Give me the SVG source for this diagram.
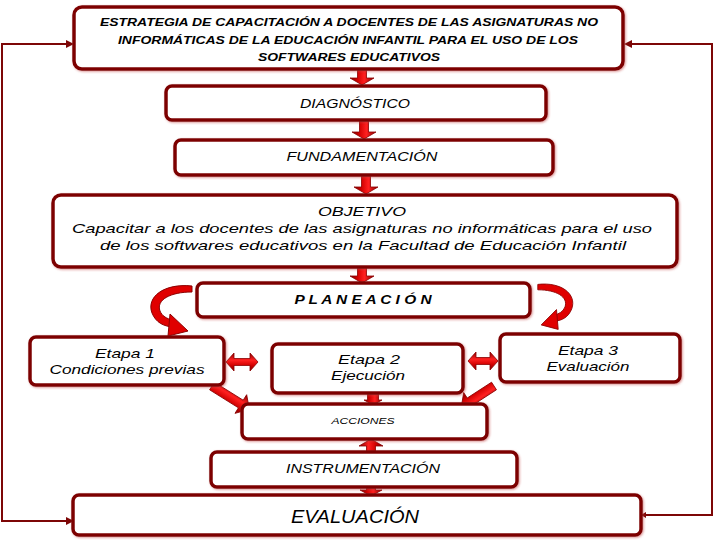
<svg xmlns="http://www.w3.org/2000/svg" width="720" height="540" viewBox="0 0 720 540">
<defs>
<linearGradient id="g" x1="0" y1="0" x2="0" y2="1">
<stop offset="0" stop-color="#8a0000"/>
<stop offset="0.4" stop-color="#ff2020"/>
<stop offset="0.7" stop-color="#d00000"/>
<stop offset="1" stop-color="#7a0000"/>
</linearGradient>
<filter id="sh" x="-5%" y="-20%" width="110%" height="140%">
<feDropShadow dx="1" dy="1" stdDeviation="1.3" flood-color="#c04040" flood-opacity="0.55"/>
</filter>
</defs>
<style>
.box{fill:#fff;stroke:#7d0606;stroke-width:3.5;filter:url(#sh)}
.t{font-family:"Liberation Sans",Arial,sans-serif;font-style:italic;fill:#000;text-anchor:middle}
.b{font-weight:bold}
.ln{fill:none;stroke:#7d0606;stroke-width:2}
.ah{fill:#7d0606}
.arr{fill:url(#g);stroke:#8b0000;stroke-width:0.8}
.cv{fill:#e00000;stroke:#8b0000;stroke-width:1}
</style>
<rect width="720" height="540" fill="#fff"/>

<g id="connectors">
<polyline class="ln" points="70,44 2,44 2,521 70,521"/>
<polygon class="ah" points="74,44 66,40 66,48"/>
<polygon class="ah" points="74,521 66,517 66,525"/>
<polyline class="ln" points="642,515 712,515 712,44 628,44"/>
<polygon class="ah" points="624,44 632,40 632,48"/>
<polygon class="ah" points="641,515 646,512 646,518"/>

<path class="arr" transform="translate(362,69) rotate(90)" d="M0,-4.5 H9 V-12 L16,0 L9,12 V4.5 H0 Z"/>
<path class="arr" transform="translate(364,120) rotate(90)" d="M0,-4.5 H12 V-12 L19,0 L12,12 V4.5 H0 Z"/>
<path class="arr" transform="translate(366,175) rotate(90)" d="M0,-4.5 H12 V-12 L19,0 L12,12 V4.5 H0 Z"/>
<path class="arr" transform="translate(362,267) rotate(90)" d="M0,-4.5 H9 V-12 L16,0 L9,12 V4.5 H0 Z"/>
<path class="arr" transform="translate(373,393) rotate(90)" d="M0,-5.5 H7 V-9 L12,0 L7,9 V5.5 H0 Z"/>
<path class="arr" transform="translate(371,452) rotate(-90)" d="M0,-4.5 H6 V-12 L13,0 L6,12 V4.5 H0 Z"/>
<path class="arr" transform="translate(371,487) rotate(90)" d="M0,-4.5 H3 V-11 L9,0 L3,11 V4.5 H0 Z"/>

<path class="arr" d="M226,362 L234,353 V358.5 H250 V353 L258,362 L250,371 V365.5 H234 V371 Z"/>
<path class="arr" d="M468,361 L476,352 V357.5 H490 V352 L498,361 L490,370 V364.5 H476 V370 Z"/>

<path class="arr" transform="translate(212,386) rotate(32)" d="M0,-4.5 H34 V-11 L44,0 L34,11 V4.5 H0 Z"/>
<path class="arr" transform="translate(494,386) rotate(147)" d="M0,-4.5 H29 V-11 L39,0 L29,11 V4.5 H0 Z"/>

<g id="curve-left">
<path class="cv" d="M192,286 C164,283 146,297 152,313 C156,323 164,326 172,327 L173,320 C167,319 162,316 160,311 C156,300 170,292 192,292 Z"/>
<polygon class="cv" points="170,314 168,336 188,331"/>
</g>
<g id="curve-right" transform="matrix(-0.85,0,0,0.9,701,27)">
<path class="cv" d="M192,286 C164,283 146,297 152,313 C156,323 164,326 172,327 L173,320 C167,319 162,316 160,311 C156,300 170,292 192,292 Z"/>
<polygon class="cv" points="170,314 168,336 188,331"/>
</g>
</g>

<g id="n-titulo">
<rect class="box" x="74" y="7" width="549" height="62" rx="8"/>
<text class="t b" font-size="11" x="349" y="26" textLength="498" lengthAdjust="spacingAndGlyphs">ESTRATEGIA DE CAPACITACIÓN  A DOCENTES DE LAS ASIGNATURAS NO</text>
<text class="t b" font-size="11" x="348" y="44" textLength="460" lengthAdjust="spacingAndGlyphs">INFORMÁTICAS DE LA EDUCACIÓN INFANTIL PARA EL USO DE LOS</text>
<text class="t b" font-size="11" x="349" y="61" textLength="182" lengthAdjust="spacingAndGlyphs">SOFTWARES EDUCATIVOS</text>
</g>

<g id="n-diagnostico">
<rect class="box" x="166" y="86" width="380" height="34" rx="6"/>
<text class="t" font-size="12" x="355" y="108" textLength="110" lengthAdjust="spacingAndGlyphs">DIAGNÓSTICO</text>
</g>

<g id="n-fundamentacion">
<rect class="box" x="175" y="140" width="378" height="35" rx="6"/>
<text class="t" font-size="12" x="362" y="161" textLength="151" lengthAdjust="spacingAndGlyphs">FUNDAMENTACIÓN</text>
</g>

<g id="n-objetivo">
<rect class="box" x="53" y="195" width="624" height="72" rx="8"/>
<text class="t" font-size="13" x="362" y="216" textLength="88" lengthAdjust="spacingAndGlyphs">OBJETIVO</text>
<text class="t" font-size="13" x="362" y="233" textLength="580" lengthAdjust="spacingAndGlyphs">Capacitar a los docentes  de las asignaturas no informáticas para el uso</text>
<text class="t" font-size="13" x="363" y="250" textLength="526" lengthAdjust="spacingAndGlyphs">de los softwares educativos en la Facultad de Educación Infantil</text>
</g>

<g id="n-planeacion">
<rect class="box" x="197" y="283" width="333" height="34" rx="6"/>
<text class="t b" font-size="12" x="363" y="304" textLength="137" lengthAdjust="spacingAndGlyphs">P L A N E A C I Ó N</text>
</g>

<g id="n-etapa1">
<rect class="box" x="30" y="337" width="194" height="48" rx="6"/>
<text class="t" font-size="13" x="125" y="358" textLength="60" lengthAdjust="spacingAndGlyphs">Etapa 1</text>
<text class="t" font-size="13" x="127" y="374" textLength="155" lengthAdjust="spacingAndGlyphs">Condiciones previas</text>
</g>

<g id="n-etapa2">
<rect class="box" x="272" y="344" width="191" height="49" rx="6"/>
<text class="t" font-size="13" x="369" y="364" textLength="62" lengthAdjust="spacingAndGlyphs">Etapa 2</text>
<text class="t" font-size="13" x="368" y="380" textLength="74" lengthAdjust="spacingAndGlyphs">Ejecución</text>
</g>

<g id="n-etapa3">
<rect class="box" x="500" y="334" width="180" height="48" rx="6"/>
<text class="t" font-size="13" x="588" y="355" textLength="60" lengthAdjust="spacingAndGlyphs">Etapa 3</text>
<text class="t" font-size="13" x="588" y="371" textLength="83" lengthAdjust="spacingAndGlyphs">Evaluación</text>
</g>

<g id="n-acciones">
<rect class="box" x="242" y="404" width="245" height="35" rx="6"/>
<text class="t" font-size="9" x="363" y="424" textLength="63" lengthAdjust="spacingAndGlyphs">ACCIONES</text>
</g>

<g id="n-instrumentacion">
<rect class="box" x="211" y="452" width="306" height="35" rx="6"/>
<text class="t" font-size="12" x="363" y="473" textLength="154" lengthAdjust="spacingAndGlyphs">INSTRUMENTACIÓN</text>
</g>

<g id="n-evaluacion">
<rect class="box" x="73" y="495" width="568" height="40" rx="6"/>
<text class="t" font-size="19" x="355" y="523" textLength="128" lengthAdjust="spacingAndGlyphs">EVALUACIÓN</text>
</g>
</svg>
